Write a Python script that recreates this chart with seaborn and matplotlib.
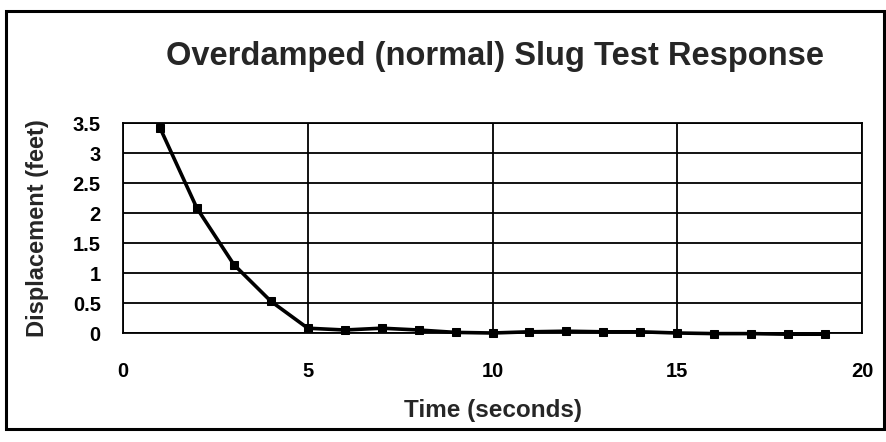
import matplotlib
matplotlib.use("Agg")
import matplotlib.pyplot as plt
import matplotlib.patches as mpatches
import seaborn as sns
import pandas as pd

# Slug test readings
time_s = [1, 2, 3, 4, 5, 6, 7, 8, 9, 10, 11, 12, 13, 14, 15, 16, 17, 18, 19]
displacement_ft = [3.42, 2.08, 1.14, 0.53, 0.08, 0.05, 0.08, 0.05, 0.01, 0.0,
                   0.02, 0.03, 0.02, 0.02, 0.0, -0.01, -0.01, -0.02, -0.02]
x_ticks = [0, 5, 10, 15, 20]
y_ticks = [0, 0.5, 1, 1.5, 2, 2.5, 3, 3.5]
y_tick_labels = ["0", "0.5", "1", "1.5", "2", "2.5", "3", "3.5"]

df = pd.DataFrame({"Time": time_s, "Displacement": displacement_ft})

sns.set_theme(style="white")
plt.rcParams["font.family"] = ["Liberation Sans", "DejaVu Sans"]

fig = plt.figure(figsize=(8.87, 4.42), dpi=100)
ax = fig.add_axes([0.1387, 0.2466, 0.8331, 0.4751])

sns.lineplot(data=df, x="Time", y="Displacement", ax=ax, color="black",
             linewidth=2.6, marker="s", markersize=6, markeredgecolor="black",
             markerfacecolor="black", clip_on=False)

ax.set_xlim(0, 20)
ax.set_ylim(0, 3.5)
ax.set_xticks(x_ticks)
ax.set_yticks(y_ticks)
ax.set_yticklabels(y_tick_labels)
ax.tick_params(axis="both", length=0, labelsize=14.5, colors="black")
ax.tick_params(axis="x", pad=21)
ax.tick_params(axis="y", pad=16)
for lab in ax.get_xticklabels() + ax.get_yticklabels():
    lab.set_fontweight("bold")

ax.grid(True, color="black", linewidth=1.3)
for s in ax.spines.values():
    s.set_visible(True)
    s.set_color("black")
    s.set_linewidth(1.3)

ax.set_xlabel("Time (seconds)", fontsize=17.5, fontweight="bold", labelpad=13)
ax.set_ylabel("Displacement (feet)", fontsize=17, fontweight="bold", labelpad=17)

fig.text(0.558, 0.872, "Overdamped (normal) Slug Test Response",
         ha="center", va="center", fontsize=23.5, fontweight="bold")

# Outer frame around the whole chart
frame = mpatches.Rectangle((0.007, 0.03), 0.99, 0.945, transform=fig.transFigure,
                           fill=False, edgecolor="black", linewidth=2.2)
fig.patches.append(frame)

fig.savefig("out.png", dpi=100, facecolor="white")
